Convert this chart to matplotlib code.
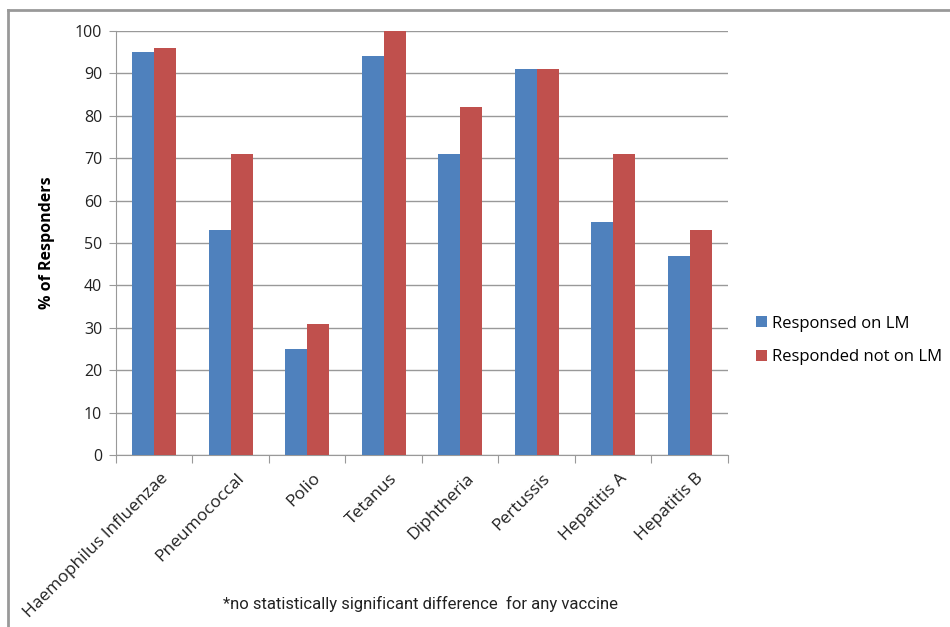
import numpy as np
import matplotlib.pyplot as plt
from matplotlib.lines import Line2D

# Vaccine response rates by group
vaccines = ['Haemophilus Influenzae', 'Pneumococcal', 'Polio', 'Tetanus',
            'Diphtheria', 'Pertussis', 'Hepatitis A', 'Hepatitis B']
on_lm = [95, 53, 25, 94, 71, 91, 55, 47]
not_on_lm = [96, 71, 31, 100, 82, 91, 71, 53]

plt.rcParams['font.family'] = ['Open Sans', 'DejaVu Sans']

fig = plt.figure(figsize=(9.5, 6.27), dpi=100)
ax = fig.add_axes([0.1221, 0.2743, 0.6442, 0.6763])

x = np.arange(len(vaccines))
w = 0.2857
ax.bar(x - w / 2, on_lm, w, color='#4F81BD', label='Responsed on LM', zorder=3)
ax.bar(x + w / 2, not_on_lm, w, color='#C0504D', label='Responded not on LM', zorder=3)

ax.set_xlim(-0.5, len(vaccines) - 0.5)
ax.set_ylim(0, 100)
ax.set_yticks(range(0, 101, 10))
ax.yaxis.grid(True, color='#999999', linewidth=1, zorder=0)
ax.tick_params(axis='y', labelsize=11.5, length=5, color='#999999', labelcolor='#222222', pad=5)

# category boundaries carry the tick marks, labels sit at centres
ax.set_xticks(np.arange(len(vaccines) + 1) - 0.5)
ax.set_xticklabels([])
ax.tick_params(axis='x', length=6, color='#999999')
ax.set_xticks(x + 0.07, minor=True)
ax.set_xticklabels(vaccines, minor=True, rotation=45, ha='right', va='top',
                   rotation_mode='anchor', fontsize=12.5, color='#222222')
ax.tick_params(axis='x', which='minor', length=0, pad=11)

for side in ['top', 'right']:
    ax.spines[side].set_visible(False)
for side in ['left', 'bottom']:
    ax.spines[side].set_color('#999999')

ax.set_ylabel('% of Responders', fontsize=11.5, fontweight='bold', labelpad=14)

ax.legend(loc='center left', bbox_to_anchor=(1.022, 0.27), frameon=False, fontsize=12,
          handlelength=0.65, handleheight=0.65, handletextpad=0.3, labelspacing=1.05)

fig.text(0.443, 0.037, '*no statistically significant difference  for any vaccine',
         ha='center', va='center', fontsize=12,
         family=['Roboto', 'DejaVu Sans'], color='#222222')

# outer frame lines along top and left
fig.add_artist(Line2D([0.0085, 1.0], [0.984, 0.984], color='#999999', linewidth=2,
                      transform=fig.transFigure))
fig.add_artist(Line2D([0.0085, 0.0085], [0.0, 0.984], color='#999999', linewidth=2,
                      transform=fig.transFigure))

fig.savefig('out.png', dpi=100)
